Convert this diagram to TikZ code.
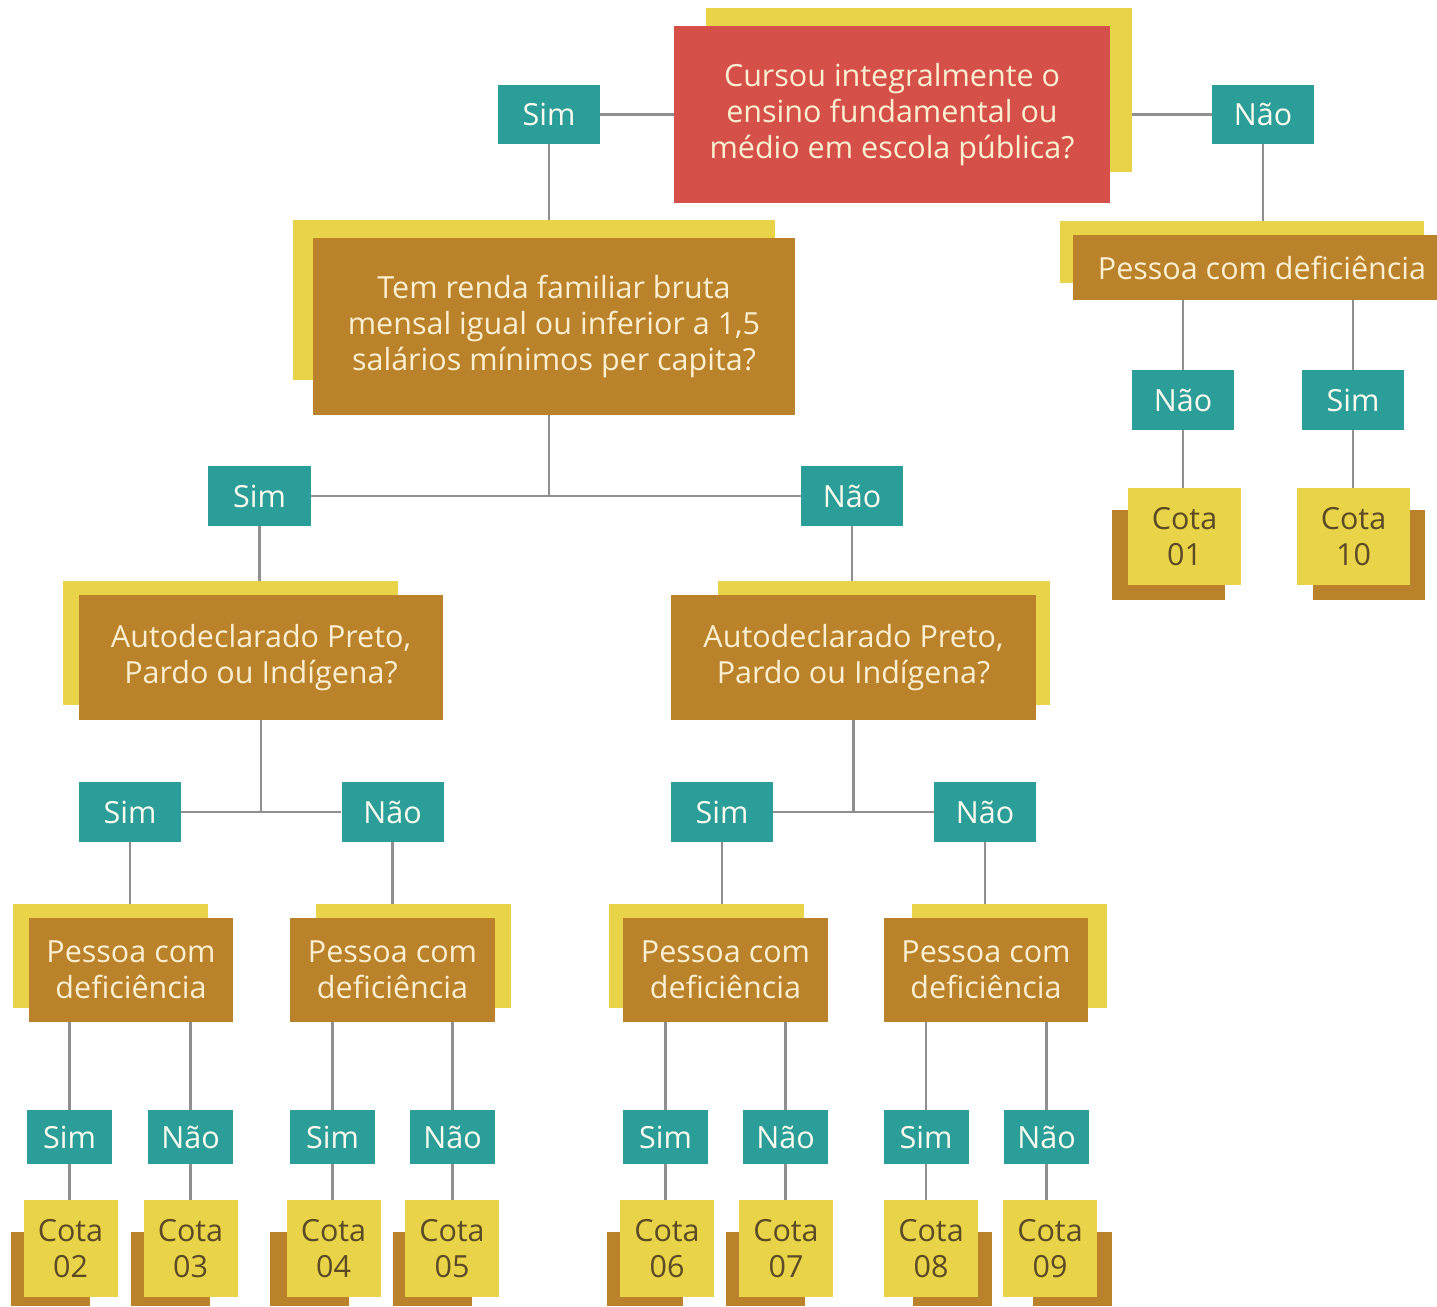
\documentclass[tikz,border=0pt]{standalone}
\usepackage{fontspec}
\setmainfont{Open Sans}
\definecolor{teal1}{HTML}{2B9E9A}
\definecolor{red1}{HTML}{D6504A}
\definecolor{brown1}{HTML}{B9822B}
\definecolor{yellow1}{HTML}{E9D348}
\definecolor{line1}{HTML}{8F8F8F}
\definecolor{cream}{HTML}{FBEFCF}
\definecolor{dark1}{HTML}{5B4B25}
\pgfdeclarelayer{back}
\pgfdeclarelayer{bg}
\pgfsetlayers{back,bg,main}
\tikzset{
  box/.style={rectangle, inner sep=0pt, align=center, font=\fontsize{30.5}{36}\selectfont},
  redq/.style={box, fill=red1, text=cream},
  brownq/.style={box, fill=brown1, text=cream},
  yn/.style={box, fill=teal1, text=white!90!yellow1},
  cota/.style={box, fill=yellow1, text=dark1},
  yshadow/.style={fill=yellow1},
  bshadow/.style={fill=brown1},
  conn/.style={draw=line1, line width=2.5pt},
}
\begin{document}
\begin{tikzpicture}[x=1pt,y=-1pt]
\useasboundingbox (0,0) rectangle (1437,1306);
\begin{pgfonlayer}{back}
\fill[white] (0,0) rectangle (1437,1306);
\end{pgfonlayer}
% shadows
\fill[yshadow] (706,8) rectangle (1132,172);
\fill[yshadow] (293,220) rectangle (775,380);
\fill[yshadow] (1060,221) rectangle (1424,283);
\fill[bshadow] (1112,510) rectangle (1225,600);
\fill[bshadow] (1313,510) rectangle (1425,600);
\fill[yshadow] (63,581) rectangle (398,705);
\fill[yshadow] (718,581) rectangle (1050,705);
\fill[yshadow] (13,904) rectangle (208,1008);
\fill[yshadow] (316,904) rectangle (511,1008);
\fill[yshadow] (609,904) rectangle (804,1008);
\fill[yshadow] (912,904) rectangle (1107,1008);
\fill[bshadow] (11,1232) rectangle (90,1306);
\fill[bshadow] (131,1232) rectangle (210,1306);
\fill[bshadow] (270,1232) rectangle (349,1306);
\fill[bshadow] (393,1232) rectangle (472,1306);
\fill[bshadow] (607,1232) rectangle (683,1306);
\fill[bshadow] (726,1232) rectangle (805,1306);
\fill[bshadow] (913,1232) rectangle (992,1306);
\fill[bshadow] (1033,1232) rectangle (1112,1306);
% main nodes
\node[redq, minimum width=436pt, minimum height=177pt] (q1) at (892,114.5) {Cursou integralmente o\\ensino fundamental ou\\médio em escola pública?};
\node[yn, minimum width=102pt, minimum height=59pt] (sim1) at (549,114.5) {Sim};
\node[yn, minimum width=102pt, minimum height=59pt] (nao1) at (1263,114.5) {Não};
\node[brownq, minimum width=482pt, minimum height=177pt] (q2) at (554,326.5) {Tem renda familiar bruta\\mensal igual ou inferior a 1,5\\salários mínimos per capita?};
\node[brownq, minimum width=364pt, minimum height=65pt] (pr) at (1255,267.5) {\hspace*{14pt}Pessoa com deficiência};
\node[yn, minimum width=102pt, minimum height=60pt] (naoR) at (1183,400) {Não};
\node[yn, minimum width=102pt, minimum height=60pt] (simR) at (1353,400) {Sim};
\node[cota, minimum width=113pt, minimum height=97pt] (c01) at (1184.5,536.5) {Cota\\01};
\node[cota, minimum width=113pt, minimum height=97pt] (c10) at (1353.5,536.5) {Cota\\10};
\node[yn, minimum width=103pt, minimum height=60pt] (sim2) at (259.5,496) {Sim};
\node[yn, minimum width=102pt, minimum height=60pt] (nao2) at (852,496) {Não};
\node[brownq, minimum width=364pt, minimum height=125pt] (q3) at (261,657.5) {Autodeclarado Preto,\\Pardo ou Indígena?};
\node[brownq, minimum width=365pt, minimum height=125pt] (q4) at (853.5,657.5) {Autodeclarado Preto,\\Pardo ou Indígena?};
\node[yn, minimum width=102pt, minimum height=60pt] (sim3) at (130,812) {Sim};
\node[yn, minimum width=102pt, minimum height=60pt] (nao3) at (392.5,812) {Não};
\node[yn, minimum width=102pt, minimum height=60pt] (sim4) at (722,812) {Sim};
\node[yn, minimum width=102pt, minimum height=60pt] (nao4) at (985,812) {Não};
\node[brownq, minimum width=204pt, minimum height=104pt] (p1) at (131,970) {Pessoa com\\deficiência};
\node[brownq, minimum width=205pt, minimum height=104pt] (p2) at (392.5,970) {Pessoa com\\deficiência};
\node[brownq, minimum width=205pt, minimum height=104pt] (p3) at (725.5,970) {Pessoa com\\deficiência};
\node[brownq, minimum width=204pt, minimum height=104pt] (p4) at (986,970) {Pessoa com\\deficiência};
\node[yn, minimum width=85pt, minimum height=54pt] (s1) at (69.5,1137) {Sim};
\node[yn, minimum width=85pt, minimum height=54pt] (n1) at (190.5,1137) {Não};
\node[yn, minimum width=85pt, minimum height=54pt] (s2) at (332.5,1137) {Sim};
\node[yn, minimum width=85pt, minimum height=54pt] (n2) at (452.5,1137) {Não};
\node[yn, minimum width=85pt, minimum height=54pt] (s3) at (665.5,1137) {Sim};
\node[yn, minimum width=85pt, minimum height=54pt] (n3) at (785.5,1137) {Não};
\node[yn, minimum width=85pt, minimum height=54pt] (s4) at (926,1137) {Sim};
\node[yn, minimum width=85pt, minimum height=54pt] (n4) at (1046.5,1137) {Não};
\node[cota, minimum width=94pt, minimum height=97pt] (c02) at (70.5,1248.5) {Cota\\02};
\node[cota, minimum width=94pt, minimum height=97pt] (c03) at (190.5,1248.5) {Cota\\03};
\node[cota, minimum width=94pt, minimum height=97pt] (c04) at (333.5,1248.5) {Cota\\04};
\node[cota, minimum width=94pt, minimum height=97pt] (c05) at (452,1248.5) {Cota\\05};
\node[cota, minimum width=94pt, minimum height=97pt] (c06) at (667,1248.5) {Cota\\06};
\node[cota, minimum width=94pt, minimum height=97pt] (c07) at (786,1248.5) {Cota\\07};
\node[cota, minimum width=94pt, minimum height=97pt] (c08) at (931,1248.5) {Cota\\08};
\node[cota, minimum width=94pt, minimum height=97pt] (c09) at (1050,1248.5) {Cota\\09};
% connectors
\begin{pgfonlayer}{bg}
\draw[conn] (sim1) -- (q1);
\draw[conn] (q1) -- (nao1);
\draw[conn] (sim1.south) -- (sim1.south |- q2.north);
\draw[conn] (nao1.south) -- (nao1.south |- pr.north);
\draw[conn] (naoR.north) -- (naoR.north |- pr.south);
\draw[conn] (simR.north) -- (simR.north |- pr.south);
\draw[conn] (naoR.south) -- (naoR.south |- c01.north);
\draw[conn] (simR.south) -- (simR.south |- c10.north);
\draw[conn] (sim1 |- q2.south) -- (sim1 |- sim2);
\draw[conn] (sim2) -- (nao2);
\draw[conn] (sim2.south) -- (sim2.south |- q3.north);
\draw[conn] (nao2.south) -- (nao2.south |- q4.north);
\draw[conn] (q3.south) -- (q3.south |- sim3);
\draw[conn] (sim3) -- (nao3);
\draw[conn] (q4.south) -- (q4.south |- sim4);
\draw[conn] (sim4) -- (nao4);
\draw[conn] (sim3.south) -- (sim3.south |- p1.north);
\draw[conn] (nao3.south) -- (nao3.south |- p2.north);
\draw[conn] (sim4.south) -- (sim4.south |- p3.north);
\draw[conn] (nao4.south) -- (nao4.south |- p4.north);
\foreach \a/\p/\c in {s1/p1/c02, n1/p1/c03, s2/p2/c04, n2/p2/c05, s3/p3/c06, n3/p3/c07, s4/p4/c08, n4/p4/c09}{
  \draw[conn] (\a.north) -- (\a.north |- \p.south);
  \draw[conn] (\a.south) -- (\a.south |- \c.north);
}
\end{pgfonlayer}
\end{tikzpicture}
\end{document}
